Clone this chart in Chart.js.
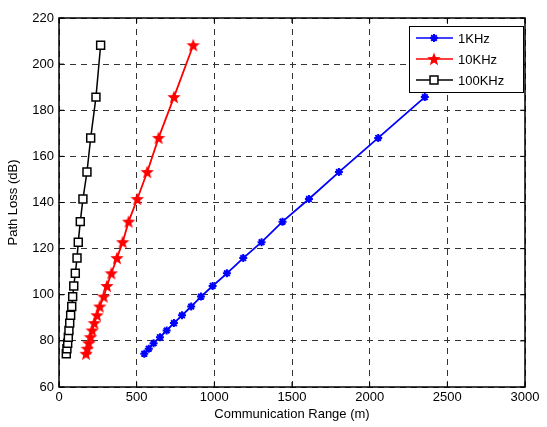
<!DOCTYPE html>
<html>
<head>
<meta charset="utf-8">
<script src="https://cdn.jsdelivr.net/npm/chart.js@4"></script>
<style>
  body { margin: 0; background: #fff; }
  #wrap { width: 547px; height: 427px; }
</style>
</head>
<body>
<div id="wrap"><canvas id="chart"></canvas></div>
<script>
// path loss values (dB), shared by the three curves
const pathLoss = [74.4, 76.6, 79.0, 81.6, 84.5, 87.7, 91.1, 94.9, 99.2, 103.8,
  109.3, 115.9, 122.8, 131.7, 141.5, 153.2, 168.0, 185.7, 208.2];

// communication range (m)
const range1k = [549, 578, 609, 650, 693, 740, 792, 851, 914, 989,
  1081, 1186, 1304, 1439, 1609, 1802, 2055, 2355];
const range10k = [174, 182, 191, 202, 214, 227, 245, 262, 288, 309,
  337, 373, 410, 448, 504, 568, 641, 740, 864];
const range100k = [47, 51, 56, 60, 64, 69, 75, 82, 88, 95,
  105, 116, 124, 137, 154, 180, 204, 238, 268];

const seriesLabels = ["1KHz", "10KHz", "100KHz"];
const xTicks = [0, 500, 1000, 1500, 2000, 2500, 3000];
const yTicks = [60, 80, 100, 120, 140, 160, 180, 200, 220];

const FONT = "'Liberation Sans', Arial, sans-serif";

function points(xs) {
  return xs.map((x, i) => ({ x: x, y: pathLoss[i] }));
}

// filled pentagram for the 10KHz markers
function makeStar(size, color) {
  const c = document.createElement("canvas");
  c.width = size; c.height = size;
  const g = c.getContext("2d");
  const cx = size / 2, cy = size / 2 + 0.5, R = size / 2, r = R * 0.42;
  g.beginPath();
  for (let i = 0; i < 10; i++) {
    const a = -Math.PI / 2 + i * Math.PI / 5;
    const rad = i % 2 === 0 ? R : r;
    g.lineTo(cx + rad * Math.cos(a), cy + rad * Math.sin(a));
  }
  g.closePath();
  g.fillStyle = color;
  g.fill();
  return c;
}
const redStar = makeStar(14, "#ff0000");

// MATLAB style box around the plot + legend
const boxPlugin = {
  id: "box",
  afterDraw(chart) {
    const ctx = chart.ctx;
    const a = chart.chartArea;
    ctx.save();
    ctx.strokeStyle = "#000";
    ctx.lineWidth = 1.5;
    ctx.strokeRect(a.left, a.top, a.right - a.left, a.bottom - a.top);

    // small inward ticks like matlab
    ctx.lineWidth = 1;
    chart.scales.x.ticks.forEach((t) => {
      const px = chart.scales.x.getPixelForValue(t.value);
      ctx.beginPath();
      ctx.moveTo(px, a.bottom); ctx.lineTo(px, a.bottom - 5);
      ctx.moveTo(px, a.top); ctx.lineTo(px, a.top + 5);
      ctx.stroke();
    });
    chart.scales.y.ticks.forEach((t) => {
      const py = chart.scales.y.getPixelForValue(t.value);
      ctx.beginPath();
      ctx.moveTo(a.left, py); ctx.lineTo(a.left + 5, py);
      ctx.moveTo(a.right, py); ctx.lineTo(a.right - 5, py);
      ctx.stroke();
    });

    // legend
    const lx = 409, ly = 26, lw = 114, lh = 66;
    ctx.fillStyle = "#fff";
    ctx.fillRect(lx, ly, lw, lh);
    ctx.strokeStyle = "#000";
    ctx.lineWidth = 1;
    ctx.strokeRect(lx + 0.5, ly + 0.5, lw, lh);
    ctx.font = "13px " + FONT;
    ctx.textBaseline = "middle";
    chart.data.datasets.forEach((ds, i) => {
      const y = ly + 12 + i * 21;
      ctx.strokeStyle = ds.borderColor;
      ctx.lineWidth = 1.5;
      ctx.beginPath();
      ctx.moveTo(lx + 7, y);
      ctx.lineTo(lx + 44, y);
      ctx.stroke();
      const st = ds.pointStyle;
      if (st instanceof HTMLCanvasElement) {
        ctx.drawImage(st, lx + 25 - st.width / 2, y - st.height / 2);
      } else {
        ctx.fillStyle = ds.pointBackgroundColor;
        ctx.strokeStyle = ds.pointBorderColor;
        ctx.lineWidth = ds.pointBorderWidth;
        Chart.helpers.drawPoint(ctx, {
          pointStyle: st, radius: ds.pointRadius, borderWidth: ds.pointBorderWidth
        }, lx + 25, y);
      }
      ctx.fillStyle = "#000";
      ctx.fillText(ds.label, lx + 49, y + 1);
    });
    ctx.restore();
  }
};

new Chart(document.getElementById("chart"), {
  type: "scatter",
  data: {
    datasets: [
      {
        label: seriesLabels[0],
        data: points(range1k),
        showLine: true,
        borderColor: "#0000ff",
        borderWidth: 1.8,
        pointStyle: "star",
        pointRadius: 4,
        pointBorderWidth: 2,
        pointBorderColor: "#0000ff",
        pointBackgroundColor: "#0000ff",
      },
      {
        label: seriesLabels[1],
        data: points(range10k),
        showLine: true,
        borderColor: "#ff0000",
        borderWidth: 1.8,
        pointStyle: redStar,
        pointRadius: 7,
        pointBorderColor: "#ff0000",
        pointBackgroundColor: "#ff0000",
      },
      {
        label: seriesLabels[2],
        data: points(range100k),
        showLine: true,
        borderColor: "#000000",
        borderWidth: 1.5,
        pointStyle: "rect",
        pointRadius: 5.6,
        pointBorderWidth: 1.5,
        pointBorderColor: "#000000",
        pointBackgroundColor: "#ffffff",
      },
    ],
  },
  options: {
    responsive: true,
    maintainAspectRatio: false,
    animation: false,
    layout: { padding: { top: 18, right: 22, left: 0, bottom: 5 } },
    plugins: { legend: { display: false }, tooltip: { enabled: false } },
    scales: {
      x: {
        type: "linear",
        min: 0,
        max: 3000,
        afterBuildTicks: (s) => { s.ticks = xTicks.map((v) => ({ value: v })); },
        afterFit: (s) => { s.height = 35; },
        grid: { color: "#333", lineWidth: 1, drawTicks: false, borderDash: [6, 5] },
        border: { display: false, dash: [6, 5] },
        ticks: {
          color: "#000", padding: 3,
          font: { family: FONT, size: 13 },
          callback: (v) => String(v),
        },
        title: {
          display: true, text: "Communication Range (m)", color: "#000", padding: { top: 1, bottom: 0 },
          font: { family: FONT, size: 13 },
        },
      },
      y: {
        min: 60,
        max: 220,
        afterBuildTicks: (s) => { s.ticks = yTicks.map((v) => ({ value: v })); },
        afterFit: (s) => { s.width = 59; },
        grid: { color: "#333", lineWidth: 1, drawTicks: false, borderDash: [6, 5] },
        border: { display: false, dash: [6, 5] },
        ticks: {
          color: "#000", padding: 5,
          font: { family: FONT, size: 13 },
          callback: (v) => String(v),
        },
        title: {
          display: true, text: "Path Loss (dB)", color: "#000", padding: { top: 6, bottom: 2 },
          font: { family: FONT, size: 13 },
        },
      },
    },
  },
  plugins: [boxPlugin],
});
</script>
</body>
</html>
